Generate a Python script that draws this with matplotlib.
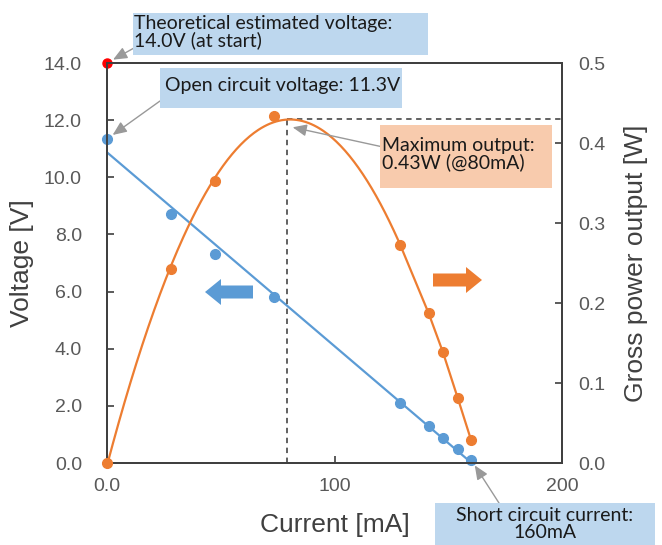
import numpy as np
import matplotlib
matplotlib.use("Agg")
import matplotlib.pyplot as plt
import matplotlib.patches as mpatches

# ---------------- data ----------------
current_ma = [0.0, 28.2, 47.6, 73.6, 128.6, 141.4, 147.6, 154.2, 160.0]
voltage_v = [11.34, 8.72, 7.32, 5.81, 2.10, 1.30, 0.88, 0.49, 0.12]
power_w = [0.0, 0.243, 0.352, 0.434, 0.273, 0.187, 0.139, 0.081, 0.029]
theory_current = [0.0]
theory_voltage = [14.0]
max_current = 79.0
max_power = 0.43
x_ticks = [0, 100, 200]
x_ticklabels = ["0.0", "100", "200"]
v_ticks = [0, 2, 4, 6, 8, 10, 12, 14]
p_ticks = [0.0, 0.1, 0.2, 0.3, 0.4, 0.5]

BLUE = "#5b9bd5"
ORANGE = "#ed7d31"
W, H = 662, 545

fig = plt.figure(figsize=(W / 100, H / 100), dpi=100)
ax = fig.add_axes([107 / W, 1 - 463 / H, (562 - 107) / W, (463 - 63) / H])
ax2 = ax.twinx()

# linear fit line for voltage
coef = np.polyfit(current_ma, voltage_v, 1)
xf = np.array([current_ma[0], current_ma[-1]])
ax.plot(xf, np.polyval(coef, xf), color=BLUE, lw=1.6, zorder=3)
ax.plot(current_ma, voltage_v, "o", color=BLUE, ms=7, zorder=4, clip_on=False)
ax.plot(theory_current, theory_voltage, "o", color="#ff0000", ms=6.5, zorder=6, clip_on=False)

# power curve: smooth fit on rising part, then segments
n_s = 5
pc = np.polyfit(current_ma[:n_s], power_w[:n_s], 2)
xs = np.linspace(current_ma[0], current_ma[n_s - 1], 200)
curve_x = np.concatenate([xs, current_ma[n_s:]])
curve_y = np.concatenate([np.polyval(pc, xs), power_w[n_s:]])
ax2.plot(curve_x, curve_y, color=ORANGE, lw=1.6, zorder=3)
ax2.plot(current_ma, power_w, "o", color=ORANGE, ms=7, zorder=4, clip_on=False)

# dashed max lines
ax2.plot([max_current, max_current], [0, max_power], ls=(0, (3, 2.5)), color="#555555", lw=1.3, zorder=2)
ax2.plot([max_current, 200], [max_power, max_power], ls=(0, (3, 2.5)), color="#555555", lw=1.3, zorder=2)

ax.set_xlim(0, 200)
ax.set_ylim(0, 14)
ax2.set_ylim(0, 0.5)
ax.set_xticks(x_ticks)
ax.set_xticklabels(x_ticklabels)
ax.set_yticks(v_ticks)
ax.set_yticklabels([f"{v:.1f}" for v in v_ticks])
ax2.set_yticks(p_ticks)
ax2.set_yticklabels([f"{p:.1f}" for p in p_ticks])

for a in (ax, ax2):
    a.tick_params(direction="in", length=5, width=1.2, colors="#404040", labelcolor="#595959", labelsize=14)
    for lab in a.get_xticklabels() + a.get_yticklabels():
        lab.set_fontfamily("Liberation Sans")
    for s in a.spines.values():
        s.set_color("#404040")
        s.set_linewidth(1.4)
ax.tick_params(axis="y", pad=18)
ax.tick_params(axis="x", pad=11)
ax2.tick_params(axis="y", pad=12)

lab_font = dict(fontsize=19, family="Liberation Sans", color="#404040")
ax.set_xlabel("Current [mA]", labelpad=13, **lab_font)
ax.set_ylabel("Voltage [V]", labelpad=7, **lab_font)
ax2.set_ylabel("Gross power output [W]", labelpad=13, **lab_font)

def fx(px):
    return px / W

def fy(py):
    return 1 - py / H

def box(x0, y0, x1, y1, color):
    r = mpatches.Rectangle((fx(x0), fy(y1)), (x1 - x0) / W, (y1 - y0) / H,
                           transform=fig.transFigure, facecolor=color, edgecolor="none", zorder=1)
    fig.patches.append(r)

ann_font = dict(family="Lato", size=14, color="#1a1a1a")
LS = 0.95
box(133, 13, 428, 55, "#bdd7ee")
fig.text(fx(134), fy(32), "Theoretical estimated voltage:\n14.0V (at start)", ha="left", va="center", linespacing=LS, **ann_font)
box(160, 68, 402, 108, "#bdd7ee")
fig.text(fx(165), fy(86), "Open circuit voltage: 11.3V", ha="left", va="center", **ann_font)
box(380, 125, 552, 188, "#f8cbad")
fig.text(fx(382), fy(154), "Maximum output:\n0.43W (@80mA)", ha="left", va="center", linespacing=LS, **ann_font)
box(435, 503, 655, 545, "#bdd7ee")
fig.text(fx(545), fy(524), "Short circuit current:\n160mA", ha="center", va="center", linespacing=LS, **ann_font)

aprops = dict(arrowstyle="-|>,head_length=0.7,head_width=0.3", color="#999999", lw=1.0,
              shrinkA=0, shrinkB=5, mutation_scale=12)
ax.annotate("", xy=(theory_current[0], theory_voltage[0]), xytext=(fx(134), fy(48)),
            xycoords="data", textcoords="figure fraction", arrowprops=aprops, annotation_clip=False)
ax.annotate("", xy=(current_ma[0], voltage_v[0]), xytext=(fx(160), fy(101)),
            xycoords="data", textcoords="figure fraction", arrowprops=aprops, annotation_clip=False)
ax2.annotate("", xy=(max_current + 2, max_power - 0.01), xytext=(fx(383), fy(147)),
             xycoords="data", textcoords="figure fraction", arrowprops=dict(aprops, shrinkB=1), annotation_clip=False)
ax.annotate("", xy=(current_ma[-1], voltage_v[-1]), xytext=(fx(499), fy(503)),
            xycoords="data", textcoords="figure fraction", arrowprops=aprops, annotation_clip=False)

# fat direction arrows
def fat_arrow(x_tail, x_tip, yc, color):
    dx = (x_tip - x_tail) / W
    fa = mpatches.FancyArrow(fx(x_tail), fy(yc), dx, 0, width=13 / H, head_width=26 / H,
                             head_length=16 / W, length_includes_head=True,
                             transform=fig.transFigure, color=color, lw=0, zorder=5)
    fig.patches.append(fa)

fat_arrow(253, 205, 292, BLUE)
fat_arrow(433, 482, 280, ORANGE)

fig.savefig("out.png", dpi=100)
